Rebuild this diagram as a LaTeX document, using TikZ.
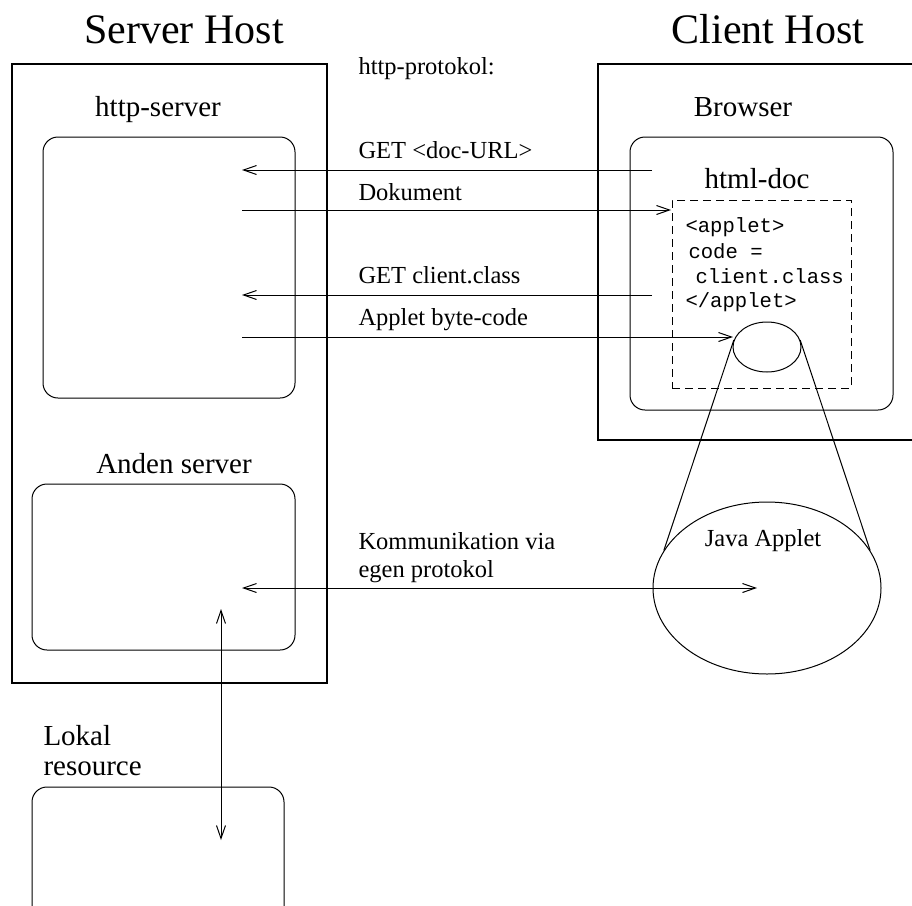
\documentclass[tikz,border=0pt]{standalone}
\usepackage{fontspec}
\setmainfont{Liberation Serif}
\setmonofont{Liberation Mono}
\usetikzlibrary{arrows.meta,shapes.geometric}

\begin{document}
\begin{tikzpicture}[x=1pt,y=-1pt,line width=1pt,
    >={Straight Barb[length=13pt,width=9pt]},
    hostbox/.style={draw,line width=2pt,inner sep=0},
    rbox/.style={draw,rounded corners=15pt,inner sep=0},
    docbox/.style={draw,dash pattern=on 8pt off 5pt,inner sep=0},
    blob/.style={draw,ellipse,inner sep=0},
    ttl/.style={anchor=base,inner sep=0,font=\fontsize{42}{48}\selectfont},
    hd/.style={anchor=base,inner sep=0,font=\fontsize{29}{34}\selectfont},
    lbl/.style={anchor=base west,inner sep=0,font=\fontsize{24.5}{29}\selectfont},
    code/.style={anchor=base west,inner sep=0,font=\ttfamily\fontsize{20.6}{25}\selectfont}]
    \useasboundingbox (0,0) rectangle (912,905);
    \clip (0,0) rectangle (912,905);
    \node[hostbox,minimum width=315pt,minimum height=619pt] (sh) at (169.5,373.5) {};
    \node[hostbox,minimum width=342pt,minimum height=376pt] (ch) at (769,252) {};
    \node[rbox,minimum width=252pt,minimum height=261pt] (hs) at (169,267.5) {};
    \node[rbox,minimum width=263pt,minimum height=166pt] (as) at (163.5,567) {};
    \node[rbox,minimum width=252pt,minimum height=138pt] (lr) at (158,856) {};
    \node[rbox,minimum width=263pt,minimum height=273pt] (bw) at (761.5,273.5) {};
    \node[docbox,minimum width=179pt,minimum height=188pt] (hd) at (761.5,294) {};
    \node[blob,minimum width=68pt,minimum height=50pt] (ap) at (767,347) {};
    \node[blob,minimum width=228pt,minimum height=172pt] (ja) at (767,588) {};
    \node[ttl] (t1) at (184,43) {Server Host};
    \node[ttl] (t2) at (768,43) {Client Host};
    \node[hd] (n1) at (158,116) {http-server};
    \node[hd] (n2) at (743,116) {Browser};
    \node[hd] (n3) at (757,188) {html-doc};
    \node[hd] (n4) at (174,473) {Anden server};
    \node[lbl,font=\fontsize{29}{34}\selectfont] (n5) at (43,745) {Lokal};
    \node[lbl,font=\fontsize{29}{34}\selectfont] (n6) at (43,775) {resource};
    \node[lbl] (p0) at (358,74) {http-protokol:};
    \node[lbl] (p1) at (358,158) {GET <doc-URL>};
    \node[lbl] (p2) at (358,200) {Dokument};
    \node[lbl] (p3) at (358,283) {GET client.class};
    \node[lbl] (p4) at (358,325) {Applet byte-code};
    \node[lbl] (p5) at (358,549) {Kommunikation via};
    \node[lbl] (p6) at (358,577) {egen protokol};
    \node[lbl,anchor=base] (p7) at (763,546) {Java Applet};
    \node[code] (c1) at (685,232) {<applet>};
    \node[code] (c2) at (688,258) {code =};
    \node[code] (c3) at (695,283) {client.class};
    \node[code] (c4) at (685,307) {</applet>};
    \coordinate (a1) at (242,170);
    \coordinate (b1) at (652,170);
    \coordinate (a2) at (242,210);
    \coordinate (b2) at (671,210);
    \coordinate (a3) at (242,295);
    \coordinate (b3) at (652,295);
    \coordinate (a4) at (242,337);
    \coordinate (b4) at (733,337);
    \coordinate (a5) at (242,588);
    \coordinate (b5) at (757,588);
    \coordinate (a6) at (221,609);
    \coordinate (b6) at (221,840);
    \draw [->] (b1) to (a1);
    \draw [->] (a2) to (b2);
    \draw [->] (b3) to (a3);
    \draw [->] (a4) to (b4);
    \draw [<->] (a5) to (b5);
    \draw [<->] (a6) to (b6);
    \draw (ap.168) to (ja.160);
    \draw (ap.12) to (ja.20);
\end{tikzpicture}
\end{document}
